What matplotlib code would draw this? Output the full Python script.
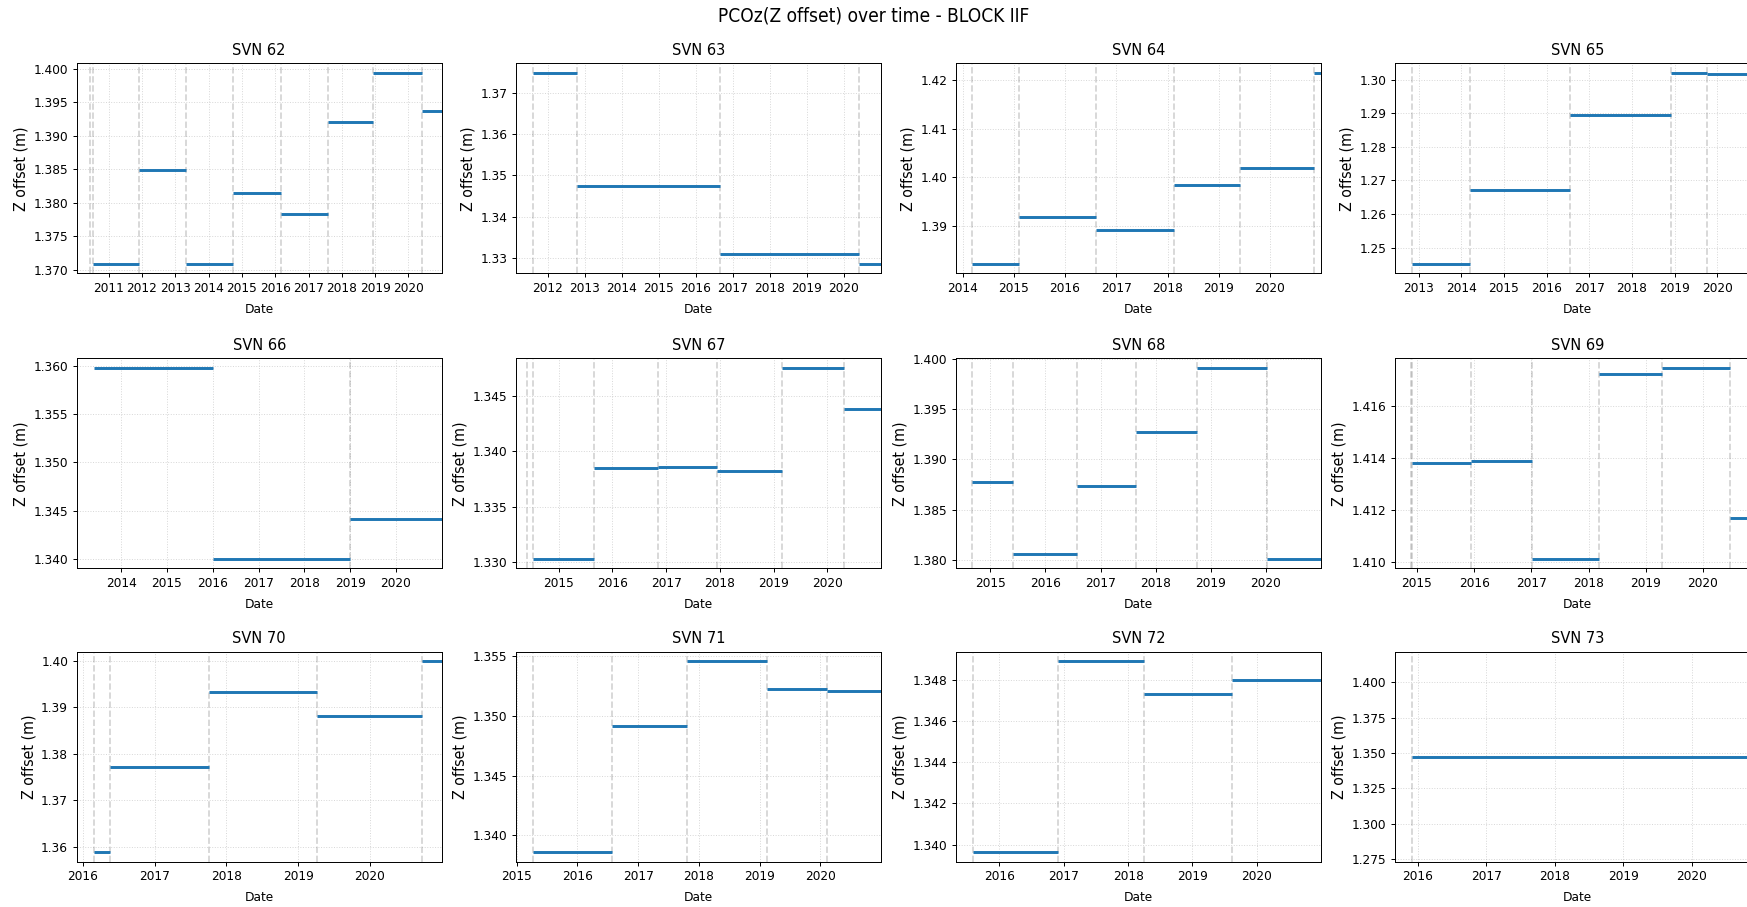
import numpy as np
import pandas as pd
import matplotlib
matplotlib.use("Agg")
import matplotlib.pyplot as plt
import matplotlib.dates as mdates
from matplotlib.ticker import MaxNLocator

plt.rcParams["font.family"] = ["DejaVu Sans"]
plt.rcParams["font.stretch"] = "condensed"

# segment start dates and PCO z values per SVN (each segment runs to the next start)
svn_names = ["SVN 62", "SVN 63", "SVN 64", "SVN 65",
             "SVN 66", "SVN 67", "SVN 68", "SVN 69",
             "SVN 70", "SVN 71", "SVN 72", "SVN 73"]

seg_starts = [
    ["2010-07-16", "2011-12-02", "2013-04-27", "2014-09-27", "2016-03-06", "2017-08-07", "2018-12-13", "2020-05-26"],
    ["2011-08-12", "2012-10-18", "2016-08-24", "2020-06-02"],
    ["2014-03-10", "2015-02-06", "2016-08-10", "2018-02-13", "2019-06-02", "2020-11-10"],
    ["2012-11-06", "2014-03-18", "2016-07-21", "2018-11-28", "2019-10-08"],
    ["2013-06-02", "2016-01-01", "2019-01-02"],
    ["2014-07-14", "2015-09-02", "2016-11-09", "2017-12-16", "2019-02-27", "2020-04-26"],
    ["2014-09-05", "2015-05-30", "2016-07-30", "2017-08-25", "2018-09-29", "2020-01-08"],
    ["2014-12-01", "2015-12-13", "2017-01-08", "2018-03-10", "2019-04-16", "2020-06-24"],
    ["2016-02-28", "2016-05-19", "2017-10-04", "2019-04-09", "2020-09-20"],
    ["2015-04-09", "2016-07-25", "2017-10-19", "2019-02-13", "2020-02-11"],
    ["2015-08-02", "2016-12-01", "2018-04-04", "2019-08-14"],
    ["2015-12-02"],
]

seg_values = [
    [1.3709, 1.3849, 1.3709, 1.3815, 1.3783, 1.3920, 1.3994, 1.3937],
    [1.3750, 1.3474, 1.3308, 1.3285],
    [1.3822, 1.3918, 1.3891, 1.3985, 1.4020, 1.4215],
    [1.2452, 1.2670, 1.2895, 1.3020, 1.3017],
    [1.3598, 1.3400, 1.3441],
    [1.3303, 1.3385, 1.3386, 1.3382, 1.3475, 1.3438],
    [1.3877, 1.3806, 1.3873, 1.3927, 1.3991, 1.3801],
    [1.41381, 1.41386, 1.41013, 1.41722, 1.41745, 1.41171],
    [1.3589, 1.3772, 1.3933, 1.3881, 1.3999],
    [1.3386, 1.3492, 1.3546, 1.3523, 1.3521],
    [1.33964, 1.34889, 1.34729, 1.34800],
    [1.3474],
]

# dashed markers (antenna/event change dates)
event_dates = [
    ["2010-06-10", "2010-07-16", "2011-12-02", "2013-04-27", "2014-09-27", "2016-03-06", "2017-08-07", "2018-12-13", "2020-05-26"],
    ["2011-08-12", "2012-10-18", "2016-08-24", "2020-06-02"],
    ["2014-03-10", "2015-02-06", "2016-08-10", "2018-02-13", "2019-06-02", "2020-11-10"],
    ["2012-11-06", "2014-03-18", "2016-07-21", "2018-11-28", "2019-10-08"],
    ["2018-12-31"],
    ["2014-06-02", "2014-07-14", "2015-09-02", "2016-11-09", "2017-12-16", "2019-02-27", "2020-04-26"],
    ["2014-09-05", "2015-05-30", "2016-07-30", "2017-08-25", "2018-09-29", "2020-01-08"],
    ["2014-11-27", "2014-12-01", "2015-12-13", "2017-01-08", "2018-03-10", "2019-04-16", "2020-06-24"],
    ["2016-02-28", "2016-05-19", "2017-10-04", "2019-04-09", "2020-09-20"],
    ["2015-04-09", "2016-07-25", "2017-10-19", "2019-02-13", "2020-02-11"],
    ["2015-08-02", "2016-12-01", "2018-04-04", "2019-08-14"],
    ["2015-12-02"],
]

x_start = ["2010-01-15", "2011-02-23", "2013-11-14", "2012-06-13",
           "2013-01-12", "2014-03-18", "2014-05-19", "2014-08-14",
           "2015-12-01", "2014-12-28", "2015-04-30", "2015-09-02"]
x_end = "2020-12-31"

W, H, DPI = 1747, 907, 88
fig = plt.figure(figsize=(W / DPI, H / DPI), dpi=DPI)
fig.suptitle("PCOz(Z offset) over time - BLOCK IIF", fontsize=15.5,
             y=1 - 16.5 / H, va="center")

col_left = [76.7, 516, 956, 1395]
row_top = [63.3, 358.3, 651.7]
ax_w, ax_h = 365, 210

end_num = mdates.date2num(pd.Timestamp(x_end))
for i, name in enumerate(svn_names):
    r, c = divmod(i, 4)
    ax = fig.add_axes([col_left[c] / W, 1 - (row_top[r] + ax_h) / H, ax_w / W, ax_h / H])

    starts = mdates.date2num(pd.to_datetime(seg_starts[i]))
    ends = np.append(starts[1:], end_num)

    for d in mdates.date2num(pd.to_datetime(event_dates[i])):
        ax.axvline(d, color="gray", linestyle="--", alpha=0.35, linewidth=1.4)
    ax.hlines(seg_values[i], starts, ends, colors="#1f77b4", linewidth=2.4)

    ax.set_xlim(mdates.date2num(pd.Timestamp(x_start[i])), end_num)
    ax.xaxis.set_major_locator(mdates.YearLocator())
    ax.xaxis.set_major_formatter(mdates.DateFormatter("%Y"))
    ax.yaxis.set_major_locator(MaxNLocator(nbins=7, steps=[1, 2, 2.5, 5, 10]))
    ax.tick_params(labelsize=11)
    ax.grid(True, linestyle=":", alpha=0.5)
    ax.set_title(name, fontsize=13.3, pad=7)
    ax.set_xlabel("Date", fontsize=11, labelpad=6.5)
    ax.set_ylabel("Z offset (m)", fontsize=13)

fig.savefig("out.png", dpi=DPI)
